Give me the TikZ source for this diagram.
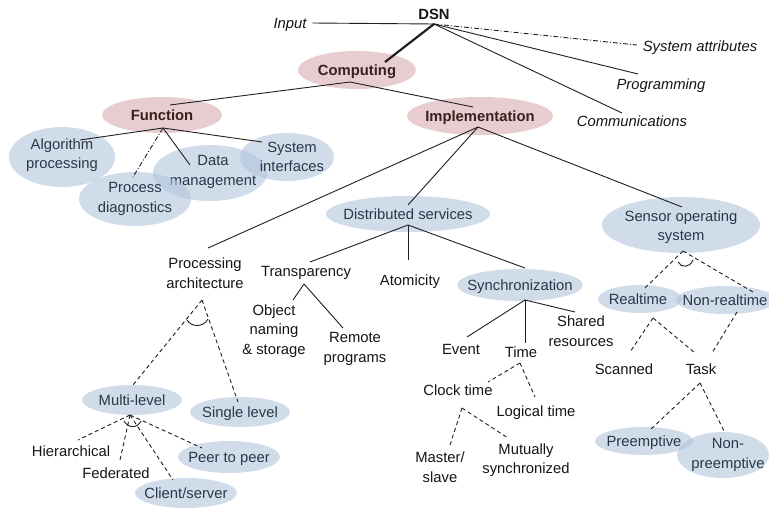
\documentclass[tikz,border=0pt]{standalone}
\usepackage{fontspec}
\setmainfont{Liberation Sans}
\usetikzlibrary{shapes.geometric}
\definecolor{pinkfill}{HTML}{E8CDD0}
\definecolor{bluefill}{HTML}{B1C5DC}
\definecolor{pinktext}{HTML}{3B1E1E}
\definecolor{bluetext}{HTML}{2C3646}
\definecolor{inktext}{HTML}{151515}
\begin{document}
\begin{tikzpicture}[x=1pt,y=-1pt,
  every node/.style={font=\fontsize{14.8}{19.5}\selectfont, inner sep=0pt, outer sep=0pt, text=inktext, align=center},
  lbl/.style={text height=10.6pt, text depth=0pt},
  emph/.style={font=\fontsize{14.8}{19.5}\selectfont\itshape},
  pinkE/.style={ellipse, fill=pinkfill, draw=none},
  blueE/.style={ellipse, fill=bluefill, fill opacity=0.6, draw=none},
  ptext/.style={lbl, text=pinktext, font=\fontsize{14.8}{19.5}\selectfont\bfseries},
  btext/.style={text=bluetext},
  conn/.style={line width=0.9pt, draw=black!88},
  dashconn/.style={conn, dash pattern=on 4pt off 3pt},
  dashdot/.style={conn, dash pattern=on 5pt off 2pt on 1pt off 2pt},
]
\useasboundingbox (0,0) rectangle (769,511);
\clip (0,0) rectangle (769,511);

% ---------- top level
\node[lbl, font=\fontsize{14.8}{19.5}\selectfont\bfseries] (dsn) at (434,14) {DSN};
\node[lbl, emph] (input) at (290,23) {Input};
\node[lbl, emph] (sysattr) at (700,46) {System attributes};
\node[lbl, emph] (prog) at (661,84) {Programming};
\node[lbl, emph] (comm) at (632,121) {Communications};

% ---------- pink ellipses
\node[pinkE, minimum width=118pt, minimum height=38pt, label={[ptext]center:Computing}] (comp) at (357,70) {};
\node[pinkE, minimum width=120pt, minimum height=36pt, label={[ptext]center:Function}] (func) at (162,115) {};
\node[pinkE, minimum width=146pt, minimum height=38pt, label={[ptext]center:Implementation}] (impl) at (480,116) {};

% ---------- function children
\node[blueE, minimum width=106pt, minimum height=60pt, label={[btext,yshift=2pt]center:Algorithm\\processing}] (algo) at (62,157) {};
\node[blueE, minimum width=114pt, minimum height=56pt, label={[btext,xshift=3pt,yshift=1pt]center:Data\\management}] (data) at (210,173) {};
\node[blueE, minimum width=112pt, minimum height=54pt, label={[btext]center:Process\\diagnostics}] (diag) at (135,199) {};
\node[blueE, minimum width=94pt, minimum height=48pt, label={[btext,xshift=5pt]center:System\\interfaces}] (sysif) at (287,157) {};

% ---------- implementation children
\node (proc) at (205,273) {Processing\\architecture};
\node[blueE, minimum width=164pt, minimum height=36pt, label={[btext,lbl]center:Distributed services}] (dist) at (408,214) {};
\node[blueE, minimum width=158pt, minimum height=56pt, label={[btext,yshift=-2pt]center:Sensor operating\\system}] (sensor) at (681,225) {};

% ---------- distributed services
\node[lbl] (transp) at (306,271) {Transparency};
\node[lbl] (atom) at (410,280) {Atomicity};
\node[blueE, minimum width=126pt, minimum height=32pt, label={[btext,lbl]center:Synchronization}] (sync) at (520,285) {};
\node (obj) at (274,331) {Object\\naming\\\& storage};
\node (remote) at (355,349) {Remote\\programs};
\node[lbl] (event) at (461,349) {Event};
\node[lbl] (time) at (521,352) {Time};
\node (shared) at (581,331) {Shared\\resources};
\node[lbl] (clock) at (458,390) {Clock time};
\node[lbl] (logical) at (536,411) {Logical time};
\node (master) at (440,467) {Master/\\slave};
\node (mutual) at (526,460) {Mutually\\synchronized};

% ---------- sensor OS
\node[blueE, minimum width=84pt, minimum height=28pt, label={[btext,lbl,xshift=-2pt]center:Realtime}] (rt) at (640,299) {};
\node[blueE, minimum width=100pt, minimum height=28pt, label={[btext,lbl,xshift=-1pt]center:Non-realtime}] (nrt) at (726,300) {};
\node[lbl] (scanned) at (624,369) {Scanned};
\node[lbl] (task) at (701,369) {Task};
\node[blueE, minimum width=98pt, minimum height=28pt, label={[btext,lbl]center:Preemptive}] (pre) at (644,441) {};
\node[blueE, minimum width=92pt, minimum height=46pt, label={[btext,xshift=5pt]center:Non-\\preemptive}] (np) at (723,455) {};

% ---------- processing architecture
\node[blueE, minimum width=100pt, minimum height=30pt, label={[btext,lbl]center:Multi-level}] (multi) at (132,400) {};
\node[blueE, minimum width=100pt, minimum height=30pt, label={[btext,lbl]center:Single level}] (single) at (240,412) {};
\node[lbl] (hier) at (71,451) {Hierarchical};
\node[lbl] (fed) at (116,473) {Federated};
\node[blueE, minimum width=102pt, minimum height=32pt, label={[btext,lbl]center:Peer to peer}] (peer) at (229,457) {};
\node[blueE, minimum width=102pt, minimum height=30pt, label={[btext,lbl]center:Client/server}] (client) at (186,493) {};

% ================= connectors
\coordinate (dsnb) at ([shift={(0,10)}]dsn.center);
\draw[conn] (dsnb) -- ([xshift=6pt]input.east);
\draw[dashdot] (dsnb) -- ([xshift=-6pt,yshift=1pt]sysattr.west);
\draw[conn] (dsnb) -- ([shift={(-23,-10)}]prog.center);
\draw[conn] (dsnb) -- ([shift={(-10,-8)}]comm.center);
\draw[conn, line width=2.2pt] (dsnb) -- ([shift={(28,-8)}]comp.center);

\coordinate (compb) at ([shift={(-7,12)}]comp.center);
\draw[conn] (compb) -- ([shift={(8,-10)}]func.center);
\draw[conn] (compb) -- ([shift={(-7,-9)}]impl.center);

\coordinate (funcb) at ([shift={(1,13)}]func.center);
\draw[conn] (funcb) -- ([shift={(18,-17)}]algo.center);
\draw[dashdot] (funcb) -- ([shift={(-2,-22)}]diag.center);
\draw[conn] (funcb) -- ([shift={(-20,-8)}]data.center);
\draw[conn] (funcb) -- ([shift={(-25,-15)}]sysif.center);

\coordinate (implb) at ([shift={(-2,11)}]impl.center);
\draw[conn] (implb) -- ([shift={(3,-25)}]proc.center);
\draw[conn] (implb) -- ([shift={(0,-9)}]dist.center);
\draw[conn] (implb) -- ([shift={(1,-18)}]sensor.center);

\coordinate (distb) at ([shift={(0,11)}]dist.center);
\draw[conn] (distb) -- ([shift={(4,-9)}]transp.center);
\draw[conn] (distb) -- ([shift={(-2,-20)}]atom.center);
\draw[conn] (distb) -- ([shift={(5,-17)}]sync.center);

\coordinate (transpb) at ([shift={(-2,13)}]transp.center);
\draw[conn] (transpb) -- ([shift={(19,-31)}]obj.center);
\draw[conn] (transpb) -- ([shift={(-12,-21)}]remote.center);

\coordinate (syncb) at ([shift={(5,15)}]sync.center);
\draw[conn] (syncb) -- ([shift={(6,-12)}]event.center);
\draw[conn] (syncb) -- ([shift={(4,-9)}]time.center);
\draw[conn] (syncb) -- ([shift={(-6,-19)}]shared.center);

\coordinate (timeb) at ([shift={(-1,11)}]time.center);
\draw[dashconn] (timeb) -- ([shift={(30,-8)}]clock.center);
\draw[dashconn] (timeb) -- ([shift={(-1,-14)}]logical.center);

\coordinate (clockb) at ([shift={(4,18)}]clock.center);
\draw[dashconn] (clockb) -- ([shift={(10,-22)}]master.center);
\draw[dashconn] (clockb) -- ([shift={(-18,-22)}]mutual.center);

\coordinate (sensorb) at ([shift={(2,26)}]sensor.center);
\draw[dashconn] (sensorb) -- ([shift={(5,-11)}]rt.center);
\draw[dashconn] (sensorb) -- ([shift={(27,-8)}]nrt.center);
\draw[conn] (678,262) .. controls (681,268) and (690,268) .. (693,260);

\coordinate (rtb) at ([shift={(13,19)}]rt.center);
\draw[dashconn] (rtb) -- ([shift={(6,-17)}]scanned.center);
\draw[dashconn] (rtb) -- ([shift={(-6,-16)}]task.center);
\coordinate (nrtb) at ([shift={(11,12)}]nrt.center);
\draw[dashconn] (nrtb) -- ([shift={(11,-16)}]task.center);

\coordinate (taskb) at ([shift={(-1,14)}]task.center);
\draw[dashconn] (taskb) -- ([shift={(6,-11)}]pre.center);
\draw[dashconn] (taskb) -- ([shift={(2,-22)}]np.center);

\coordinate (procb) at ([shift={(-3,27)}]proc.center);
\draw[dashconn] (procb) -- ([shift={(1,-15)}]multi.center);
\draw[dashconn] (procb) -- ([shift={(-2,-10)}]single.center);
\draw[conn] (187,320) .. controls (191,327) and (203,328) .. (208,319);

\coordinate (multib) at ([shift={(-2,15)}]multi.center);
\draw[dashconn] (multib) -- ([shift={(7,-11)}]hier.center);
\draw[dashconn] (multib) -- ([shift={(4,-13)}]fed.center);
\draw[dashconn] (multib) -- ([shift={(-13,-13)}]client.center);
\draw[dashconn] (multib) -- ([shift={(-27,-9)}]peer.center);
\draw[conn] (124,421) .. controls (128,428) and (137,429) .. (141,421);
\end{tikzpicture}
\end{document}
